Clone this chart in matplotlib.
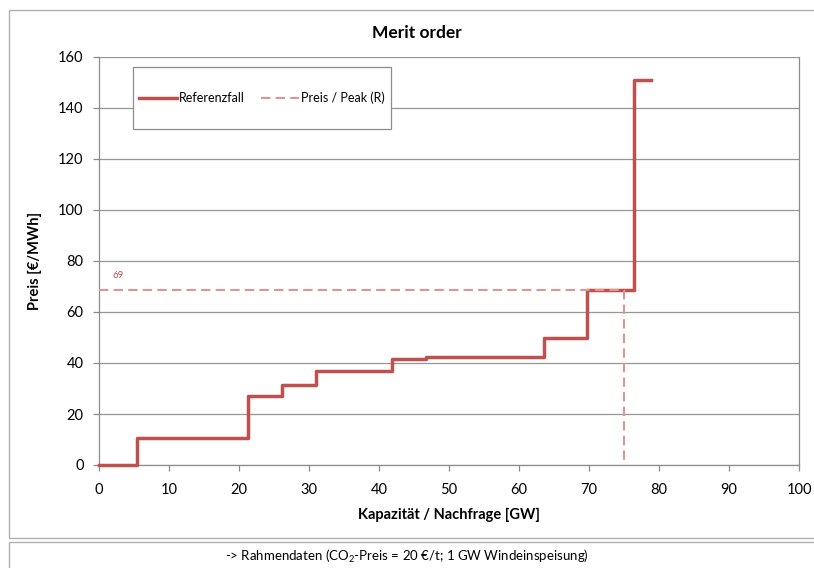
import matplotlib.pyplot as plt
from matplotlib.patches import Rectangle
from matplotlib.lines import Line2D

plt.rcParams['font.family'] = ['Lato', 'DejaVu Sans']
plt.rcParams['mathtext.default'] = 'regular'

# merit order steps: capacity edges [GW] and price per block [EUR/MWh]
cap_edges = [0, 5.4, 21.3, 26.2, 31.0, 41.9, 46.7, 63.6, 69.7, 76.4, 78.9]
prices = [0, 10.6, 27.2, 31.2, 36.7, 41.7, 42.2, 49.8, 68.7, 151.1]

peak_demand = 75
peak_price = 68.7
peak_label = '69'

red = '#C0504D'
light_red = '#DD9593'
grey = '#8C8C8C'

fig = plt.figure(figsize=(8.14, 5.68), dpi=100)

# outer frames (chart area + footer box), right edge runs off the image
fig.patches.append(Rectangle((9 / 814, 1 - 538 / 568), 1.2, (538 - 10) / 568,
                             transform=fig.transFigure, fill=False,
                             edgecolor='#B0B0B0', lw=1))
fig.patches.append(Rectangle((9 / 814, -0.05), 1.2, 0.05 + (568 - 542) / 568,
                             transform=fig.transFigure, fill=False,
                             edgecolor='#B0B0B0', lw=1))

ax = fig.add_axes([99 / 814, 1 - 465 / 568, 700 / 814, 408 / 568])

ax.step(cap_edges, prices + [prices[-1]], where='post', color=red, lw=2.5,
        clip_on=False, zorder=3)
ax.plot([0, peak_demand, peak_demand], [peak_price, peak_price, 0],
        color=light_red, lw=1.5, ls=(0, (4.5, 2.5)), zorder=4)
ax.text(2.7, 72.5, peak_label, color=red, fontsize=7, ha='center', va='bottom')

ax.set_xlim(0, 100)
ax.set_ylim(0, 160)
ax.set_xticks(range(0, 101, 10))
ax.set_yticks(range(0, 161, 20))
ax.yaxis.grid(True, color='#969696', lw=0.9)
ax.set_axisbelow(True)
for s in ax.spines.values():
    s.set_color(grey)
    s.set_linewidth(0.9)
ax.spines['top'].set_visible(False)
ax.tick_params(axis='both', colors=grey, labelcolor='black', labelsize=10.5,
               length=4, width=0.9, direction='out')
ax.tick_params(axis='x', pad=9)
ax.tick_params(axis='y', pad=7)

ax.set_xlabel('Kapazität / Nachfrage [GW]', fontsize=10.5, fontweight='bold',
              labelpad=8)
ax.set_ylabel('Preis [€/MWh]', fontsize=10.5, fontweight='bold', labelpad=12)

# legend box
box_x0, box_x1 = (133 - 99) / 700, (391 - 99) / 700
box_y0, box_y1 = (465 - 129) / 408, (465 - 67) / 408
ax.add_patch(Rectangle((box_x0, box_y0), box_x1 - box_x0, box_y1 - box_y0,
                       transform=ax.transAxes, facecolor='white',
                       edgecolor=grey, lw=0.9, zorder=5))
handles = [Line2D([], [], color=red, lw=2.5),
           Line2D([], [], color=light_red, lw=1.5, ls=(0, (4.5, 2.5)))]
leg = ax.legend(handles, ['Referenzfall', 'Preis / Peak (R)'], ncol=2,
                loc='center', bbox_to_anchor=((box_x0 + box_x1) / 2,
                                              (box_y0 + box_y1) / 2),
                frameon=False, fontsize=9, handlelength=3.0,
                handletextpad=0.2, columnspacing=1.3)
leg.set_zorder(6)

fig.text(417 / 814, 1 - 33 / 568, 'Merit order', ha='center', va='center',
         fontsize=12.5, fontweight='bold')
fig.text(407 / 814, 1 - 556 / 568,
         '-> Rahmendaten (CO$_2$-Preis = 20 €/t; 1 GW Windeinspeisung)',
         ha='center', va='center', fontsize=9.5)

fig.savefig('out.png', dpi=100)
